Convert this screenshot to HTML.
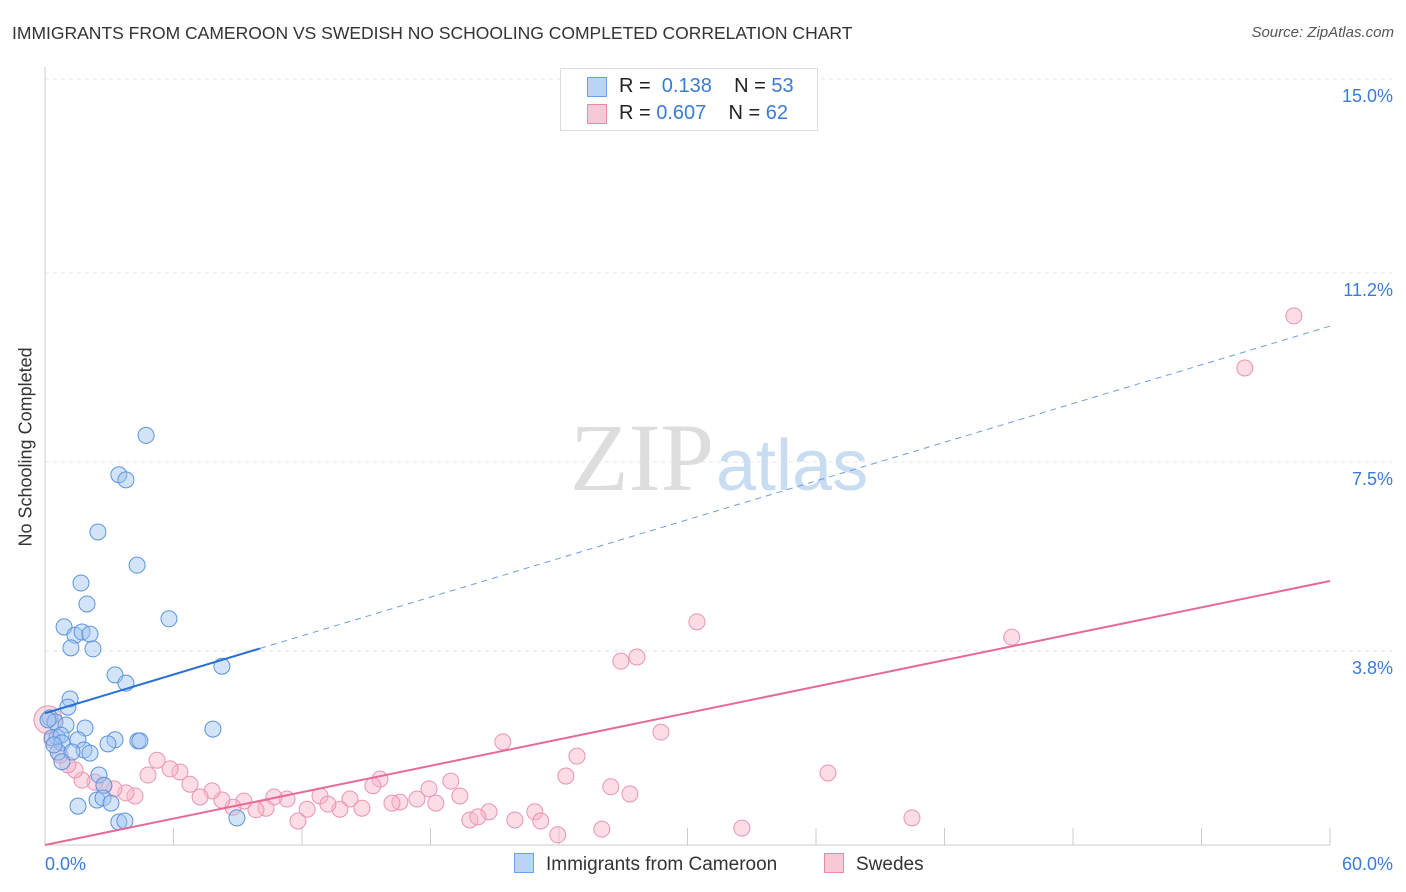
<!DOCTYPE html>
<html><head><meta charset="utf-8"><style>
body{margin:0;background:#fff;font-family:"Liberation Sans",sans-serif;}
#c{position:relative;width:1406px;height:892px;overflow:hidden}
.t{position:absolute;white-space:nowrap}
</style></head><body><div id="c">
<div class="t" style="left:12px;top:23px;font-size:17.5px;color:#333">IMMIGRANTS FROM CAMEROON VS SWEDISH NO SCHOOLING COMPLETED CORRELATION CHART</div>
<div class="t" style="right:12px;top:24px;font-size:15px;color:#555;font-style:italic">Source: ZipAtlas.com</div>
<div class="t" style="left:-64px;top:446px;font-size:18px;color:#333;transform:rotate(-90deg);width:180px;text-align:center">No Schooling Completed</div>
<svg id="s" width="1406" height="892" style="position:absolute;left:0;top:0"></svg>
<div class="t" style="left:560px;top:68px;width:256px;height:61px;border:1px solid #ddd;background:#fff;font-size:20px;color:#222">
 <div style="position:absolute;left:26px;top:8px;width:18px;height:18px;background:#b8d4f6;border:1px solid #6aa0e6"></div>
 <div style="position:absolute;left:58px;top:6px">R = &nbsp;<span style="color:#3a7bd5">0.138</span>&nbsp;&nbsp;&nbsp; N = <span style="color:#3a7bd5">53</span></div>
 <div style="position:absolute;left:26px;top:35px;width:18px;height:18px;background:#f9c8d6;border:1px solid #e88aa8"></div>
 <div style="position:absolute;left:58px;top:33px">R = <span style="color:#3a7bd5">0.607</span>&nbsp;&nbsp;&nbsp; N = <span style="color:#3a7bd5">62</span></div>
</div>
<div class="t" style="left:514px;top:853px;font-size:19px;color:#333"><span style="display:inline-block;width:18px;height:18px;background:#b8d4f6;border:1px solid #6aa0e6;vertical-align:-3px;margin-right:12px"></span>Immigrants from Cameroon</div>
<div class="t" style="left:824px;top:853px;font-size:19px;color:#333"><span style="display:inline-block;width:18px;height:18px;background:#f9c8d6;border:1px solid #e88aa8;vertical-align:-3px;margin-right:12px"></span>Swedes</div>
</div>
<script>
const yTicks=[3.8,7.5,11.2,15.0];
const yTickLabels=["3.8%","7.5%","11.2%","15.0%"];
const xTickLabels=["0.0%","60.0%"];
const blueX=[4.72,3.45,3.78,2.47,4.30,1.68,1.96,5.79,0.89,1.40,1.73,2.10,1.21,2.24,8.26,3.27,3.78,1.17,1.07,0.23,0.47,0.98,1.87,7.84,0.56,0.33,0.75,1.54,0.79,3.27,4.34,4.43,2.94,1.82,0.61,2.10,1.26,0.79,2.52,2.75,2.43,2.71,3.08,1.54,3.45,3.73,8.96,0.14,0.42];
const blueY=[8.02,7.25,7.15,6.13,5.48,5.13,4.72,4.43,4.27,4.11,4.17,4.13,3.86,3.84,3.50,3.33,3.17,2.86,2.70,2.49,2.41,2.35,2.29,2.27,2.11,2.10,2.15,2.06,2.00,2.06,2.04,2.04,1.98,1.86,1.82,1.80,1.82,1.63,1.37,1.17,0.88,0.92,0.82,0.76,0.45,0.47,0.53,2.45,1.96];
const pinkX=[58.31,56.02,45.14,30.44,27.64,26.89,28.76,21.38,24.84,36.56,24.32,18.95,15.64,26.42,27.31,19.37,17.93,18.25,17.37,16.57,16.20,15.31,14.24,14.80,13.77,12.84,13.21,12.24,11.81,11.30,10.69,10.32,9.85,9.29,8.78,8.26,7.80,7.24,6.77,6.30,5.84,5.23,4.81,4.20,3.78,3.22,2.75,2.33,1.73,1.40,1.07,0.70,0.33,0.14,20.73,19.84,20.21,21.94,22.87,23.15,23.94,26.00,32.54,40.48];
const pinkY=[10.36,9.34,4.07,4.37,3.68,3.60,2.21,2.02,1.74,1.41,1.35,1.25,1.29,1.14,1.00,0.96,1.10,0.82,0.90,0.84,0.82,1.16,0.90,0.72,0.70,0.96,0.80,0.70,0.47,0.90,0.94,0.72,0.69,0.86,0.74,0.88,1.06,0.94,1.19,1.43,1.49,1.66,1.37,0.96,1.02,1.10,1.16,1.23,1.27,1.47,1.57,1.76,2.06,2.45,0.65,0.49,0.55,0.49,0.65,0.47,0.20,0.31,0.33,0.53];
const blueTrend=[2.58,10.16]; // value at x=0 and x=60
const pinkTrend=[0.0,5.17];
const X=v=>45+v*(1330-45)/60, Y=v=>845-v*51.07;
const s=document.getElementById('s'),NS='http://www.w3.org/2000/svg';
function mk(t,a,name){const e=document.createElementNS(NS,t);for(const k in a)e.setAttribute(k,a[k]);


s.appendChild(e);return e;}
yTicks.forEach((v,i)=>{mk('line',{x1:45,x2:1392,y1:Y(v),y2:Y(v),stroke:'#e4e4e4','stroke-dasharray':'4,4'},'y-gridline');
const t=mk('text',{x:1393,y:Y(v)+23,'text-anchor':'end','font-size':18,fill:'#3a7bd5','font-family':'Liberation Sans'},'y-tick-label');t.textContent=yTickLabels[i];});
mk('line',{x1:45,x2:45,y1:67,y2:845,stroke:'#ccc'},'y-axis');
mk('line',{x1:45,x2:1330,y1:845,y2:845,stroke:'#ccc'},'x-axis');
for(let i=1;i<=10;i++)mk('line',{x1:X(i*6),x2:X(i*6),y1:828,y2:845,stroke:'#ccc'},'x-tick');
let t=mk('text',{x:45,y:870,'font-size':18,fill:'#3a7bd5','font-family':'Liberation Sans'},'x-tick-label');t.textContent=xTickLabels[0];
t=mk('text',{x:1393,y:870,'text-anchor':'end','font-size':18,fill:'#3a7bd5','font-family':'Liberation Sans'},'x-tick-label');t.textContent=xTickLabels[1];
t=mk('text',{x:714,y:490,'text-anchor':'end','font-size':96,fill:'#ddd','font-family':'Liberation Serif'},'watermark-zip');t.textContent='ZIP';
t=mk('text',{x:716,y:490,'font-size':72,fill:'#c8dcf2','font-family':'Liberation Sans'},'watermark-atlas');t.textContent='atlas';
pinkX.forEach((v,i)=>mk('circle',{cx:X(v),cy:Y(pinkY[i]),r:i==53?14:8,fill:'rgba(248,180,200,0.45)',stroke:'#e994b0','stroke-width':1},'swedes-point'));
blueX.forEach((v,i)=>mk('circle',{cx:X(v),cy:Y(blueY[i]),r:8,fill:'rgba(160,195,240,0.45)',stroke:'#5b93de','stroke-width':1},'cameroon-point'));
const bx=10.05;const by=blueTrend[0]+(blueTrend[1]-blueTrend[0])*bx/60;
mk('line',{x1:X(0),y1:Y(blueTrend[0]),x2:X(bx),y2:Y(by),stroke:'#2a6fd6','stroke-width':2},'cameroon-trendline');
mk('line',{x1:X(bx),y1:Y(by),x2:X(60),y2:Y(blueTrend[1]),stroke:'#6a9ee0','stroke-width':1,'stroke-dasharray':'6,5'},'cameroon-trendline-extension');
mk('line',{x1:X(0),y1:Y(pinkTrend[0]),x2:X(60),y2:Y(pinkTrend[1]),stroke:'#e66a96','stroke-width':2},'swedes-trendline');
</script></body></html>
